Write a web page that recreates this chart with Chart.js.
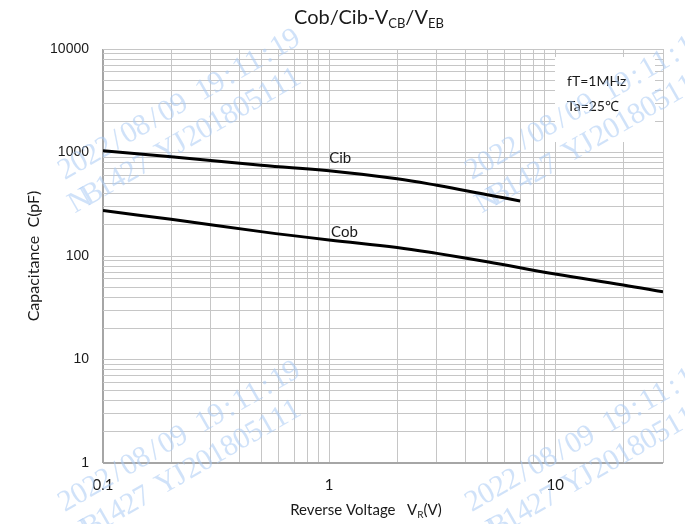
<!DOCTYPE html>
<html>
<head>
<meta charset="utf-8">
<script src="https://cdn.jsdelivr.net/npm/chart.js@4"></script>
<style>
  body { margin: 0; background: #fff; }
  #chart { display: block; }
</style>
</head>
<body>
<canvas id="chart" width="685" height="524"></canvas>
<script>
// data
var cibVoltage = [0.1, 0.2, 0.5, 1, 2, 3, 5, 7];
var cibValues = [1041, 911, 752, 668, 558, 482, 391, 340];
var cobVoltage = [0.1, 0.2, 0.5, 1, 2, 3, 5, 10, 20, 30];
var cobValues = [275, 226, 172, 143, 121, 106, 88, 67, 52.5, 45];

var xTickLabels = ['0.1', '1', '10'];
var yTickLabels = ['1', '10', '100', '1000', '10000'];

var curveNames = ['Cib', 'Cob'];
var curveLabelX = [1.12, 1.17];
var curveLabelY = [885, 170];

var noteLines = ['fT=1MHz', 'Ta=25\u2103'];
var stampLines = ['2022/08/09 19:11:19', 'NB1427 YJ201805111'];

var textFont = 'Lato, "Open Sans", sans-serif';

// grid values 1..9 per decade
function decadeGrid(min, max) {
    var out = [];
    for (var d = Math.round(Math.log10(min)); Math.pow(10, d) <= max; d++) {
        for (var m = 1; m <= 9; m++) {
            var v = parseFloat((m * Math.pow(10, d)).toPrecision(6));
            if (v >= min && v <= max) out.push(v);
        }
    }
    return out;
}

function labelFor(list, value) {
    var hit = list.find(l => Math.abs(parseFloat(l) - value) < 1e-9 * Math.max(1, value));
    return hit || '';
}

function toPoints(xs, ys) {
    return xs.map((x, i) => ({ x: x, y: ys[i] }));
}

// text with subscripts, segments: [text, isSub]
function drawRich(ctx, segs, cx, y, size, align) {
    var total = 0;
    segs.forEach(s => {
        ctx.font = (s[1] ? Math.round(size * 0.65) : size) + 'px ' + textFont;
        total += ctx.measureText(s[0]).width;
    });
    var x = align === 'center' ? cx - total / 2 : cx;
    ctx.textAlign = 'left';
    ctx.textBaseline = 'alphabetic';
    segs.forEach(s => {
        ctx.font = (s[1] ? Math.round(size * 0.65) : size) + 'px ' + textFont;
        ctx.fillText(s[0], x, s[1] ? y + size * 0.22 : y);
        x += ctx.measureText(s[0]).width;
    });
}

var decorPlugin = {
    id: 'decor',
    beforeDatasetsDraw(chart) {
        var ctx = chart.ctx;
        ctx.save();
        // white note box over the grid
        ctx.fillStyle = '#ffffff';
        ctx.fillRect(555, 57, 100, 85);
        ctx.fillStyle = '#1a1a1a';
        ctx.font = '14px ' + textFont;
        ctx.textAlign = 'left';
        ctx.textBaseline = 'alphabetic';
        ctx.fillText(noteLines[0], 567, 86);
        ctx.fillText(noteLines[1], 567, 111);

        // watermark stamps
        var origins = [[65, 180], [472, 180], [65, 512], [472, 512]];
        ctx.fillStyle = 'rgba(170, 202, 244, 0.55)';
        ctx.font = '30px "Liberation Serif", serif';
        ctx.textAlign = 'center';
        origins.forEach(o => {
            ctx.save();
            ctx.translate(o[0], o[1]);
            ctx.rotate(-30 * Math.PI / 180);
            stampLines.forEach((line, li) => {
                line.split('').forEach((ch, i) => {
                    ctx.fillText(ch, i * 14.4 + 7.2 - li * 4.7, li * 34);
                });
            });
            ctx.restore();
        });
        ctx.restore();
    },
    afterDraw(chart) {
        var ctx = chart.ctx;
        var xs = chart.scales.x, ys = chart.scales.y;
        ctx.save();
        ctx.fillStyle = '#1a1a1a';

        // curve names
        ctx.font = '15px ' + textFont;
        ctx.textAlign = 'center';
        ctx.textBaseline = 'middle';
        curveNames.forEach((n, i) => {
            ctx.fillText(n, xs.getPixelForValue(curveLabelX[i]), ys.getPixelForValue(curveLabelY[i]));
        });

        // title
        drawRich(ctx, [['Cob/Cib-V', false], ['CB', true], ['/V', false], ['EB', true]], 369, 24, 20, 'center');

        // x axis title
        drawRich(ctx, [['Reverse Voltage   V', false], ['R', true], ['(V)', false]], 366, 515, 15, 'center');

        // y axis title
        ctx.translate(34, 256);
        ctx.rotate(-Math.PI / 2);
        ctx.font = '16px ' + textFont;
        ctx.textAlign = 'center';
        ctx.textBaseline = 'middle';
        ctx.fillText('Capacitance  C(pF)', 0, 0);
        ctx.restore();
    }
};

new Chart(document.querySelector('#chart'), {
    type: 'line',
    data: {
        datasets: [{
            label: 'Cib',
            data: toPoints(cibVoltage, cibValues),
            borderColor: '#000000',
            borderWidth: 3,
            pointRadius: 0,
            tension: 0.4
        }, {
            label: 'Cob',
            data: toPoints(cobVoltage, cobValues),
            borderColor: '#000000',
            borderWidth: 3,
            pointRadius: 0,
            tension: 0.4
        }]
    },
    options: {
        responsive: false,
        animation: false,
        layout: {
            padding: { top: 49, right: 22, left: 0, bottom: 0 }
        },
        plugins: {
            legend: { display: false },
            tooltip: { enabled: false },
            title: { display: false }
        },
        scales: {
            x: {
                type: 'logarithmic',
                min: 0.1,
                max: 30,
                afterBuildTicks: scale => {
                    scale.ticks = decadeGrid(0.1, 30).map(v => ({ value: v }));
                },
                afterFit: scale => { scale.height = 61; },
                grid: {
                    drawTicks: false,
                    color: ctx => ctx.tick && ctx.tick.value === 0.1 ? '#a6a6a6' : '#c6c6c6',
                    lineWidth: ctx => ctx.tick && ctx.tick.value === 0.1 ? 2 : 1
                },
                border: { display: false },
                ticks: {
                    autoSkip: false,
                    maxRotation: 0,
                    padding: 13,
                    color: '#1a1a1a',
                    font: { family: textFont, size: 15 },
                    callback: value => labelFor(xTickLabels, value)
                }
            },
            y: {
                type: 'logarithmic',
                min: 1,
                max: 10000,
                afterBuildTicks: scale => {
                    scale.ticks = decadeGrid(1, 10000).map(v => ({ value: v }));
                },
                afterFit: scale => { scale.width = 103; },
                grid: {
                    drawTicks: false,
                    color: ctx => ctx.tick && ctx.tick.value === 1 ? '#a6a6a6' : '#c6c6c6',
                    lineWidth: ctx => ctx.tick && ctx.tick.value === 1 ? 2 : 1
                },
                border: { display: false },
                ticks: {
                    autoSkip: false,
                    padding: 14,
                    color: '#1a1a1a',
                    font: { family: '"Liberation Sans", Arial, sans-serif', size: 14 },
                    callback: value => labelFor(yTickLabels, value)
                }
            }
        }
    },
    plugins: [decorPlugin]
});
</script>
</body>
</html>
